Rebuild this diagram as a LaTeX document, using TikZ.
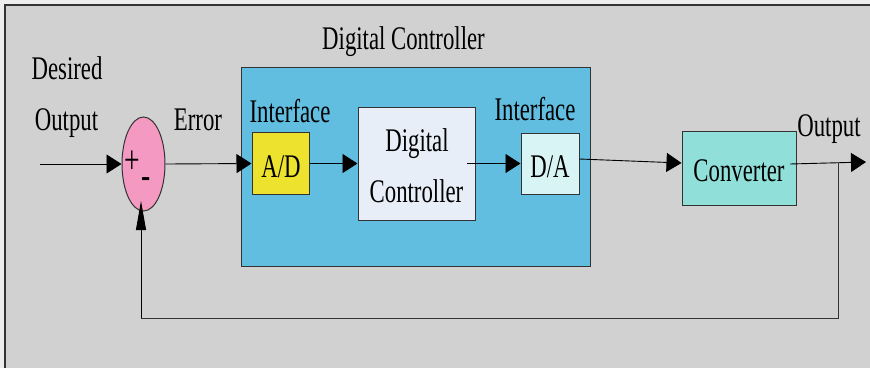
\documentclass[tikz,border=0pt]{standalone}
\usepackage{fontspec}
\setmainfont{Liberation Serif}[FakeStretch=0.69]
\usetikzlibrary{shapes.geometric,arrows.meta}

\definecolor{panel}{HTML}{D1D1D1}
\definecolor{ctrlblue}{HTML}{62BEE0}
\definecolor{adyellow}{HTML}{EDE22E}
\definecolor{dcwhite}{HTML}{E7EEF8}
\definecolor{dacyan}{HTML}{D8F4F4}
\definecolor{convteal}{HTML}{90E0D9}
\definecolor{sumpink}{HTML}{F49AC2}
\definecolor{edge}{HTML}{333333}

\tikzset{
  lbl/.style={font=\fontsize{33}{36}\selectfont, inner sep=0pt, anchor=base},
  sign/.style={font=\fontsize{40}{42}\selectfont, inner sep=0pt},
  blockbox/.style={draw=edge, line width=1pt, inner sep=0pt},
  sig/.style={line width=0.9pt, -{Triangle[length=15pt,width=19pt]}},
  upsig/.style={line width=0.9pt, -{Triangle[length=29pt,width=10pt]}},
  wire/.style={line width=0.9pt},
}

\begin{document}
\begin{tikzpicture}[x=1pt,y=-1pt]
  \useasboundingbox (0,0) rectangle (870,368);
  \fill[white!93!black] (0,0) rectangle (870,368);
  % panel background with top and left rule
  \fill[panel] (5,5) rectangle (870,368);
  \draw[edge, line width=2pt] (5,368) -- (5,5) -- (870,5);

  % digital controller enclosure
  \node[blockbox, fill=ctrlblue, minimum width=349, minimum height=199] (enc) at (415.5,166.5) {};
  \node[lbl] (enctitle) at (403.5,49) {Digital Controller};

  % summing junction
  \node[draw=edge, line width=1pt, fill=sumpink, ellipse, inner sep=0pt,
        minimum width=43, minimum height=94] (sum) at (143.5,164) {};
  \node[sign] (plus) at (132,162) {+};
  \node[sign] (minus) at (146,183) {-};

  % blocks
  \node[blockbox, fill=adyellow, minimum width=57, minimum height=62] (ad) at (280.5,163.5) {};
  \node[lbl] (adtxt) at (281,177.7) {A/D};
  \node[blockbox, fill=dcwhite, minimum width=117, minimum height=113] (dc) at (416.5,163.5) {};
  \node[lbl] (dctxt1) at (417,151) {Digital};
  \node[lbl] (dctxt2) at (416.5,202) {Controller};
  \node[blockbox, fill=dacyan, minimum width=58, minimum height=61] (da) at (550,163.5) {};
  \node[lbl] (datxt) at (550,177.7) {D/A};
  \node[blockbox, fill=convteal, minimum width=114, minimum height=74] (conv) at (739,168) {};
  \node[lbl] (convtxt) at (739,181) {Converter};

  % labels
  \node[lbl] (desired) at (67,79) {Desired};
  \node[lbl] (inlabel) at (66.5,130) {Output};
  \node[lbl] (errlabel) at (198,130) {Error};
  \node[lbl] (if1) at (290,122.5) {Interface};
  \node[lbl] (if2) at (535,120.5) {Interface};
  \node[lbl] (outlabel) at (829,136) {Output};

  % signal path
  \coordinate (src) at (40,164);
  \coordinate (dcout) at (467,163.5);
  \coordinate (convout) at (790,164);
  \coordinate (outend) at (866,162);
  \coordinate (tap) at (838,163);
  \coordinate (fbr) at (838,318);
  \coordinate (fbl) at (141,318);
  \coordinate (fbtip) at (141,201);

  \draw[sig] (src) -- (sum.west);
  \draw[sig] (sum.east) -- (ad.west);
  \draw[sig] (ad.east) -- (dc.west);
  \draw[sig] (dcout) -- (da.west);
  \draw[sig] ([yshift=4.5pt]da.east) -- ([yshift=5pt]conv.west);
  \draw[sig] (convout) -- (outend);
  \draw[wire, edge] (tap) -- (fbr) -- (fbl);
  \draw[upsig] (fbl) -- (fbtip);
\end{tikzpicture}
\end{document}
